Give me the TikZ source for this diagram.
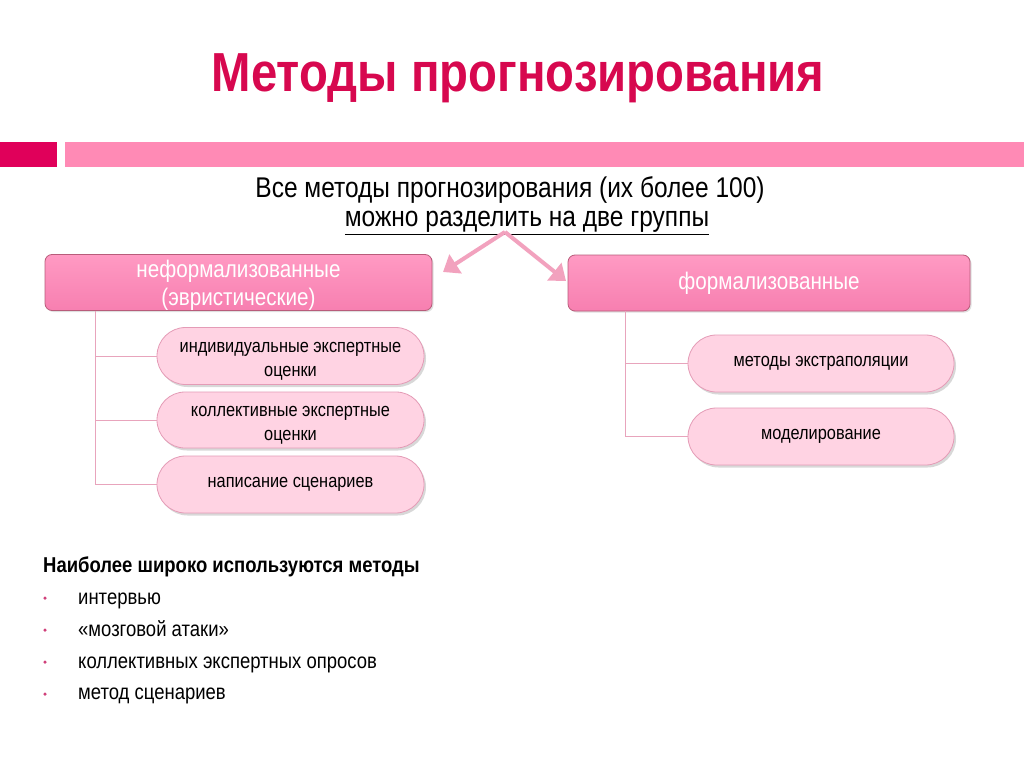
\documentclass[tikz,border=0pt]{standalone}
\usepackage{fontspec}
\setmainfont{Liberation Sans}
\newfontfamily\narrowfont[FakeStretch=0.86]{Liberation Sans}
\usetikzlibrary{shadows,arrows.meta,shapes.misc}
\definecolor{titlecol}{HTML}{D7084F}
\definecolor{barsq}{HTML}{E0005A}
\definecolor{barlong}{HTML}{FF8AB5}
\definecolor{hdtop}{HTML}{FF9AC3}
\definecolor{hdbot}{HTML}{F77FB0}
\definecolor{hdborder}{HTML}{B85C7A}
\definecolor{pillfill}{HTML}{FFD3E3}
\definecolor{pillborder}{HTML}{E49BB6}
\definecolor{linkcol}{HTML}{E8A4BC}
\definecolor{arrowcol}{HTML}{F2A2BE}
\definecolor{bulletcol}{HTML}{D0407A}
\tikzset{
  header/.style={draw=hdborder, line width=0.8pt, rounded corners=7pt, top color=hdtop, bottom color=hdbot,
     text=white, align=center, font=\narrowfont\fontsize{24}{28}\selectfont, inner sep=0pt,
     drop shadow={shadow xshift=1.5pt, shadow yshift=-1.5pt, opacity=0.25}},
  pill/.style={draw=pillborder, line width=0.8pt, rounded rectangle, fill=pillfill, text=black, align=center,
     font=\narrowfont\fontsize{19}{24}\selectfont, inner sep=0pt,
     drop shadow={shadow xshift=2pt, shadow yshift=-2.5pt, opacity=0.3}},
  link/.style={draw=linkcol, line width=1pt},
  bigarrow/.style={draw=arrowcol, line width=4pt, -{Triangle[length=15pt,width=22pt]}},
  bodytext/.style={font=\narrowfont\fontsize{21.5}{24}\selectfont, anchor=base west, inner sep=0pt},
  bul/.style={circle, fill=bulletcol, inner sep=0pt, minimum size=3.5pt}
}
\newcommand{\twolines}[2]{\raisebox{-3.5pt}[\height][\depth]{\begin{tabular}{@{}c@{}}#1\\#2\end{tabular}}}
\begin{document}
\begin{tikzpicture}[x=1pt,y=-1pt]
\useasboundingbox (0,0) rectangle (1024,767);
\fill[white] (0,0) rectangle (1024,767);
% title
\node (title) [text=titlecol, font=\narrowfont\bfseries\fontsize{55}{60}\selectfont] at (518,78) {Методы прогнозирования};
% bar
\fill[barsq] (0,142) rectangle (57,167);
\fill[barlong] (65,142) rectangle (1024,167);
% subtitle
\node (sub) [font=\narrowfont\fontsize{28.5}{29}\selectfont, align=center, inner sep=0pt] at (510,206)
  {Все методы прогнозирования (их более 100)\\\hspace*{34pt}\underline{можно разделить на две группы}};
% headers
\node (L) [header, minimum width=387pt, minimum height=55pt] at (238.5,282.5) {\twolines{неформализованные}{(эвристические)}};
\node (R) [header, minimum width=402pt, minimum height=56pt] at (769,283) {формализованные};
% arrows
\coordinate (apex) at (505,232);
\draw[bigarrow] (apex) -- (443,272);
\draw[bigarrow] (apex) -- (566,281);
% left children
\node (l1) [pill, minimum width=267pt, minimum height=57pt] at (290.5,356) {\twolines{индивидуальные экспертные}{оценки}};
\node (l2) [pill, minimum width=267pt, minimum height=56pt] at (290.5,420) {\twolines{коллективные экспертные}{оценки}};
\node (l3) [pill, minimum width=267pt, minimum height=57pt] at (290.5,484.5) {написание сценариев};
% right children
\node (r1) [pill, minimum width=266pt, minimum height=57pt] at (821,363.5) {методы экстраполяции};
\node (r2) [pill, minimum width=266pt, minimum height=57pt] at (821,436.5) {моделирование};
% links left
\coordinate (lv) at (95,0);
\draw[link] (L.south -| lv) -- (l3.west -| lv) -- (l3.west);
\draw[link] (l1.west -| lv) -- (l1.west);
\draw[link] (l2.west -| lv) -- (l2.west);
% links right
\coordinate (rv) at (625,0);
\draw[link] (R.south -| rv) -- (r2.west -| rv) -- (r2.west);
\draw[link] (r1.west -| rv) -- (r1.west);
% bottom text
\node (head) [bodytext, font=\narrowfont\bfseries\fontsize{21.5}{24}\selectfont] at (43,572) {Наиболее широко используются методы};
\node (b1) [bul] at (45,598) {};
\node (b2) [bul] at (45,630) {};
\node (b3) [bul] at (45,662) {};
\node (b4) [bul] at (45,694) {};
\node (t1) [bodytext] at (78,604) {интервью};
\node (t2) [bodytext] at (78,636) {«мозговой атаки»};
\node (t3) [bodytext] at (78,668) {коллективных экспертных опросов};
\node (t4) [bodytext] at (78,699) {метод сценариев};
\end{tikzpicture}
\end{document}
